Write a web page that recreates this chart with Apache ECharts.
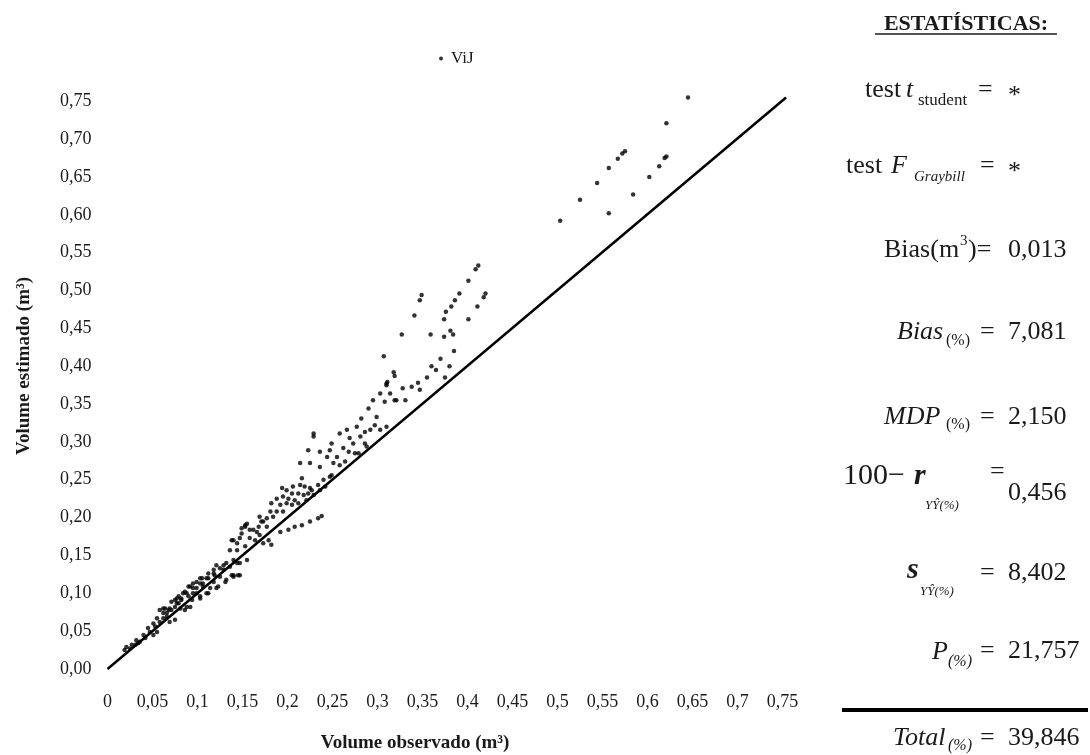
<!DOCTYPE html>
<html>
<head>
<meta charset="utf-8">
<script src="https://cdn.jsdelivr.net/npm/echarts@6/dist/echarts.min.js"></script>
<style>
  html, body { margin: 0; padding: 0; background: #fff; }
  #chart { width: 1090px; height: 755px; }
</style>
</head>
<body>
<div id="chart"></div>
<script>
// volume observado x volume estimado (m3)
const pontosBaixos = [
  [0.019,0.025],[0.021,0.029],[0.025,0.027],[0.027,0.032],[0.031,0.032],[0.032,0.038],
  [0.034,0.034],[0.036,0.036],[0.040,0.045],[0.042,0.041],[0.045,0.054],[0.047,0.049],
  [0.051,0.045],[0.051,0.060],[0.053,0.056],[0.055,0.049],[0.055,0.067],[0.058,0.062],
  [0.058,0.078],[0.062,0.067],[0.062,0.074],[0.062,0.080],[0.064,0.080],[0.066,0.074],
  [0.066,0.069],[0.068,0.078],[0.069,0.062],[0.069,0.080],[0.071,0.078],[0.071,0.089],
  [0.075,0.065],[0.075,0.082],[0.075,0.091],[0.077,0.087],[0.077,0.093],[0.079,0.087],
  [0.079,0.096],[0.081,0.080],[0.082,0.091],[0.082,0.093],[0.084,0.100],[0.086,0.078],
  [0.086,0.102],[0.088,0.082],[0.088,0.100],[0.090,0.096],[0.090,0.109],[0.092,0.082],
  [0.092,0.109],[0.094,0.091],[0.095,0.100],[0.095,0.107],[0.095,0.113],[0.099,0.100],
  [0.099,0.107],[0.099,0.115],[0.103,0.093],[0.103,0.096],[0.103,0.113],[0.103,0.120],
  [0.105,0.120],[0.106,0.109],[0.106,0.113],[0.110,0.100],[0.110,0.120],[0.112,0.100],
  [0.112,0.120],[0.112,0.126],[0.114,0.107],[0.118,0.115],[0.118,0.126],[0.118,0.131],
  [0.119,0.124],[0.121,0.107],[0.121,0.137],[0.123,0.109],[0.125,0.122],[0.125,0.133],
  [0.129,0.131],[0.129,0.137],[0.131,0.115],[0.132,0.118],[0.132,0.140],[0.136,0.135],
  [0.138,0.124],[0.140,0.122],[0.140,0.124],[0.140,0.144],[0.144,0.140],[0.145,0.124],
  [0.147,0.124],[0.147,0.140]
];
const pontosMedios = [
  [0.136,0.157],[0.138,0.170],[0.140,0.170],[0.144,0.157],[0.144,0.166],[0.147,0.173],
  [0.149,0.179],[0.149,0.186],[0.153,0.162],[0.153,0.188],[0.153,0.190],[0.155,0.144],
  [0.155,0.192],[0.158,0.173],[0.158,0.184],[0.162,0.184],[0.164,0.170],[0.166,0.181],
  [0.168,0.188],[0.169,0.177],[0.169,0.201],[0.171,0.195],[0.173,0.166],[0.173,0.195],
  [0.177,0.188],[0.177,0.199],[0.179,0.170],[0.181,0.208],[0.182,0.164],[0.182,0.219],
  [0.184,0.201],[0.188,0.208],[0.188,0.225],[0.192,0.181],[0.192,0.217],[0.194,0.239],
  [0.195,0.208],[0.195,0.228],[0.199,0.219],[0.199,0.236],[0.201,0.184],[0.201,0.225],
  [0.205,0.217],[0.205,0.232],[0.206,0.241],[0.208,0.188],[0.208,0.223],[0.212,0.219],
  [0.212,0.232],[0.214,0.243],[0.214,0.272],[0.216,0.190],[0.216,0.252],[0.218,0.230],
  [0.219,0.241],[0.221,0.223],[0.223,0.232],[0.223,0.289],[0.225,0.195],[0.225,0.239],
  [0.225,0.272],[0.227,0.236],[0.229,0.230],[0.229,0.307],[0.229,0.311],[0.234,0.199],
  [0.234,0.243],[0.236,0.236],[0.236,0.267],[0.236,0.287],[0.238,0.202],[0.240,0.250],
  [0.242,0.241],[0.244,0.280],[0.247,0.254],[0.247,0.289],[0.249,0.256],[0.249,0.298],
  [0.251,0.272],[0.255,0.280],[0.258,0.269],[0.258,0.311],[0.262,0.292],[0.264,0.274],
  [0.266,0.316],[0.268,0.287],[0.269,0.305],[0.273,0.298],[0.275,0.285],[0.277,0.320],
  [0.279,0.285],[0.281,0.307],[0.282,0.331],[0.286,0.298],[0.286,0.313],[0.288,0.294],
  [0.290,0.344],[0.292,0.316],[0.295,0.355],[0.297,0.322],[0.299,0.333],[0.303,0.316],
  [0.303,0.364],[0.307,0.413],[0.308,0.353],[0.310,0.320],[0.310,0.375],[0.310,0.377],
  [0.311,0.379],[0.314,0.364],[0.318,0.392],[0.319,0.355],[0.319,0.387],[0.321,0.355],
  [0.328,0.371],[0.331,0.355],[0.338,0.373],[0.345,0.378],[0.347,0.369]
];
const pontosAltos = [
  [0.327,0.442],[0.341,0.467],[0.347,0.487],[0.349,0.494],[0.355,0.385],[0.359,0.442],
  [0.360,0.400],[0.365,0.395],[0.370,0.410],[0.374,0.439],[0.374,0.462],[0.375,0.385],
  [0.376,0.472],[0.380,0.400],[0.381,0.447],[0.382,0.479],[0.384,0.442],[0.385,0.420],
  [0.386,0.487],[0.391,0.496],[0.401,0.462],[0.401,0.513],[0.409,0.528],[0.411,0.479],
  [0.412,0.533],[0.418,0.491],[0.420,0.496],
  [0.503,0.592],[0.525,0.620],[0.544,0.642],[0.557,0.602],[0.557,0.662],[0.567,0.674],
  [0.572,0.681],[0.575,0.684],[0.584,0.627],[0.602,0.650],[0.613,0.664],[0.619,0.675],
  [0.621,0.677],[0.621,0.721],[0.645,0.755]
];
// reta 1:1
const retaObs = [0, 0.754];
const retaEst = [0, 0.755];

const serif = 'Liberation Serif';
const cor = '#1a1a1a';

function fmtX(v) { return String(+v.toFixed(2)).replace('.', ','); }
function fmtY(v) { return v.toFixed(2).replace('.', ','); }

function txt(s, x, y, size, extra) {
  return {
    type: 'text', x: x, y: y,
    style: Object.assign({
      text: s, fontSize: size, fontFamily: serif, fill: cor,
      align: 'left', verticalAlign: 'middle'
    }, extra || {})
  };
}
const it = { fontStyle: 'italic' };

// painel de estatísticas
const estat = [
  txt('ESTATÍSTICAS:', 966, 24, 22, { fontWeight: 'bold', align: 'center' }),
  txt('test', 865, 90, 26), txt('t', 906, 90, 26, it), txt('student', 918, 101, 17),
  txt('=', 978, 90, 26), txt('*', 1008, 96, 26),
  txt('test', 846, 166, 26), txt('F', 891, 166, 26, it), txt('Graybill', 914, 177, 15, it),
  txt('=', 980, 166, 26), txt('*', 1008, 172, 26),
  txt('Bias(m', 884, 250, 26), txt('3', 960, 241, 15), txt(')=', 968, 250, 26),
  txt('0,013', 1008, 250, 26),
  txt('Bias', 897, 332, 26, it), txt('(%)', 946, 341, 16),
  txt('=', 980, 332, 26), txt('7,081', 1008, 332, 26),
  txt('MDP', 884, 417, 26, it), txt('(%)', 946, 425, 16),
  txt('=', 980, 417, 26), txt('2,150', 1008, 417, 26),
  txt('100−', 843, 476, 30), txt('r', 914, 476, 30, { fontStyle: 'italic', fontWeight: 'bold' }),
  txt('YŶ(%)', 925, 506, 13, it),
  txt('=', 990, 472, 26), txt('0,456', 1008, 493, 26),
  txt('s', 907, 570, 30, { fontStyle: 'italic', fontWeight: 'bold' }),
  txt('YŶ(%)', 920, 592, 13, it),
  txt('=', 980, 573, 26), txt('8,402', 1008, 573, 26),
  txt('P', 932, 652, 26, it), txt('(%)', 948, 662, 16, it),
  txt('=', 980, 651, 26), txt('21,757', 1008, 651, 26),
  txt('Total', 893, 738, 26, it), txt('(%)', 948, 746, 16, it),
  txt('=', 980, 738, 26), txt('39,846', 1008, 738, 26),
  { type: 'line', shape: { x1: 875, y1: 34, x2: 1057, y2: 34 }, style: { stroke: cor, lineWidth: 1.5 } },
  { type: 'line', shape: { x1: 842, y1: 710, x2: 1088, y2: 710 }, style: { stroke: '#000', lineWidth: 4 } }
];

const nomesEixos = [
  txt('Volume observado (m³)', 415, 743, 19, { fontWeight: 'bold', align: 'center' }),
  {
    type: 'text', x: 24, y: 366, rotation: Math.PI / 2,
    style: { text: 'Volume estimado (m³)', fontSize: 19, fontFamily: serif, fontWeight: 'bold',
      fill: cor, align: 'center', verticalAlign: 'middle' }
  }
];

const chart = echarts.init(document.getElementById('chart'));
chart.setOption({
  backgroundColor: '#fff',
  animation: false,
  textStyle: { fontFamily: serif },
  grid: { left: 107.5, right: 298.5, top: 93.7, bottom: 86, containLabel: false },
  legend: {
    data: ['ViJ'], left: 434, top: 45, icon: 'circle',
    itemWidth: 10, itemHeight: 4,
    textStyle: { fontSize: 17, fontFamily: serif, color: cor }
  },
  xAxis: {
    type: 'value', min: 0, max: 0.76, interval: 0.05,
    axisLine: { show: false }, axisTick: { show: false }, splitLine: { show: false },
    axisLabel: { showMaxLabel: false, margin: 24, fontSize: 18, fontFamily: serif, color: cor, formatter: fmtX }
  },
  yAxis: {
    type: 'value', min: 0, max: 0.76, interval: 0.05,
    axisLine: { show: false }, axisTick: { show: false }, splitLine: { show: false },
    axisLabel: { showMaxLabel: false, margin: 16, fontSize: 18, fontFamily: serif, color: cor, formatter: fmtY }
  },
  series: [
    {
      name: 'ViJ', type: 'scatter', symbolSize: 4.5,
      itemStyle: { color: '#000' },
      data: pontosBaixos.concat(pontosMedios, pontosAltos)
    },
    {
      name: 'reta', type: 'line', showSymbol: false, silent: true,
      lineStyle: { color: '#000', width: 2.5 },
      data: retaObs.map((v, i) => [v, retaEst[i]])
    }
  ],
  graphic: estat.concat(nomesEixos)
});
</script>
</body>
</html>
